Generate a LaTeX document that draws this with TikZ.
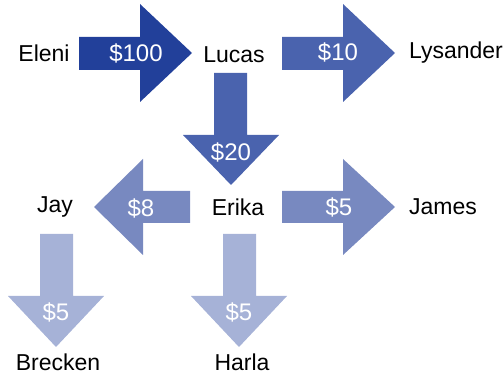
\documentclass[tikz,border=0pt]{standalone}
\usepackage{fontspec}
\setmainfont{Liberation Sans}
\definecolor{c1}{HTML}{22409A}
\definecolor{c2}{HTML}{4A63AE}
\definecolor{c3}{HTML}{7889C0}
\definecolor{c4}{HTML}{A6B2D7}
\begin{document}
\begin{tikzpicture}[x=1pt,y=1pt,
  person/.style={font=\fontsize{23}{27}\selectfont, text=black, inner sep=0pt},
  amount/.style={font=\fontsize{24}{28}\selectfont, text=white, inner sep=0pt}]
\useasboundingbox (0,0) rectangle (504,377);
% arrows
\fill[c1] (79,307)--(140,307)--(140,275)--(192,324)--(140,373)--(140,340)--(79,340)--cycle;
\fill[c2] (282,307)--(343,307)--(343,275)--(395,324)--(343,373)--(343,340)--(282,340)--cycle;
\fill[c2] (214,304)--(214,242)--(183,242)--(231,192)--(279,242)--(247,242)--(247,304)--cycle;
\fill[c3] (190,186)--(143,186)--(143,218)--(94,170)--(143,122)--(143,154)--(190,154)--cycle;
\fill[c3] (282,186)--(343,186)--(343,218)--(395,170)--(343,122)--(343,154)--(282,154)--cycle;
\fill[c4] (40,143)--(40,81)--(8,81)--(56,30)--(104,81)--(73,81)--(73,143)--cycle;
\fill[c4] (223,143)--(223,81)--(191,81)--(239,30)--(287,81)--(256,81)--(256,143)--cycle;
% people
\node[person] (eleni) at (44,324) {Eleni};
\node[person] (lucas) at (234,322) {Lucas};
\node[person] (lysander) at (456,324) {Lysander};
\node[person] (jay) at (55,170) {Jay};
\node[person] (erika) at (238,170) {Erika};
\node[person] (james) at (443,170) {James};
\node[person] (brecken) at (58,15) {Brecken};
\node[person] (harla) at (242,15) {Harla};
% amounts
\node[amount] (a1) at (136,324) {\$100};
\node[amount] (a2) at (338,325) {\$10};
\node[amount] (a3) at (231,225) {\$20};
\node[amount] (a4) at (141,169) {\$8};
\node[amount] (a5) at (339,170) {\$5};
\node[amount] (a6) at (56,65) {\$5};
\node[amount] (a7) at (239,65) {\$5};
\end{tikzpicture}
\end{document}
